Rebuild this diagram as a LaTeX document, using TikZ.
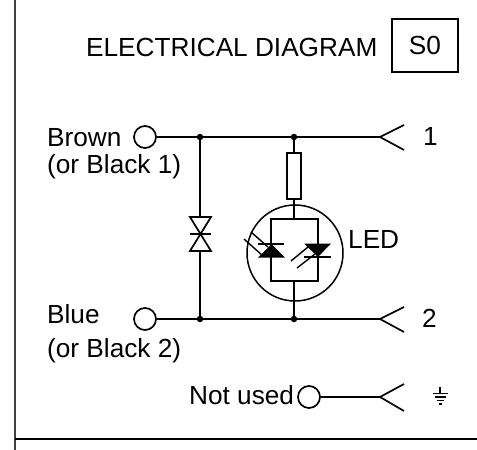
\documentclass[tikz,border=0pt]{standalone}
\usepackage{fontspec}
\setmainfont{Liberation Sans}
\usepackage{tikz}
\tikzstyle{Label}=[anchor=base west, inner sep=0pt, text=black, font=\fontsize{26.2}{30}\selectfont]
\tikzstyle{Pad}=[minimum size=22pt, inner sep=0pt, fill=white, line width=1.7pt, draw=black, shape=circle]
\tikzstyle{Joint}=[minimum size=6.5pt, inner sep=0pt, fill=black, shape=circle]
\tikzstyle{Frame}=[draw=black, line width=1.7pt, inner sep=0pt, shape=rectangle]
\tikzstyle{wire}=[line width=1.7pt, draw=black, line join=miter]
\tikzstyle{thin wire}=[line width=1.4pt, draw=black]
\pgfdeclarelayer{nodelayer}
\pgfdeclarelayer{edgelayer}
\pgfsetlayers{main, nodelayer, edgelayer}
\begin{document}
\begin{tikzpicture}[x=1pt, y=-1pt]
	\useasboundingbox (0, 0) rectangle (477, 450);
	\begin{pgfonlayer}{nodelayer}
		% texts
		\node [style=Label] (title) at (86, 56) {ELECTRICAL DIAGRAM};
		\node [style=Frame, minimum width=66pt, minimum height=53pt, font=\fontsize{26.2}{30}\selectfont] (code) at (425, 45.5) {S0\hspace{4pt}};
		\node [style=Label] (brown) at (47, 146) {Brown};
		\node [style=Label] (blackone) at (47, 173) {(or Black 1)};
		\node [style=Label] (blue) at (47, 323) {Blue};
		\node [style=Label] (blacktwo) at (47, 357) {(or Black 2)};
		\node [style=Label] (notused) at (189, 404) {Not used};
		\node [style=Label] (led label) at (348, 248) {LED};
		\node [style=Label] (pin one) at (423, 145) {1};
		\node [style=Label] (pin two) at (422, 327) {2};

		\node [style=Pad] (brown pad) at (145, 137) {};
		\node [style=Pad] (blue pad) at (145, 319) {};
		\node [style=Pad] (free pad) at (309, 397) {};
		\node [style=Joint] (top left) at (200, 137) {};
		\node [style=Joint] (top right) at (294, 137) {};
		\node [style=Joint] (bottom left) at (200, 319) {};
		\node [style=Joint] (bottom right) at (294, 319) {};

		\node [style=Frame, minimum width=14pt, minimum height=46pt] (resistor) at (294, 176) {};
		\node [draw=black, line width=1.5pt, shape=circle, minimum size=96pt, inner sep=0pt] (led) at (295, 253) {};
		\node [style=Frame, minimum width=47pt, minimum height=62pt] (led box) at (294.5, 250) {};

		\coordinate (fork one) at (380, 137);
		\coordinate (fork two) at (380, 319);
		\coordinate (fork free) at (380, 397);
		\coordinate (diode top) at (200, 217);
		\coordinate (diode bottom) at (200, 251);
	\end{pgfonlayer}
	\begin{pgfonlayer}{edgelayer}
		% frame of the sheet
		\draw [line width=2pt, draw=black!75] (15, 0) to (15, 450);
		\draw [line width=2pt, draw=black] (15, 439) to (477, 439);

		\draw [style=wire] (brown pad) to (top left);
		\draw [style=wire] (top left) to (top right);
		\draw [style=wire] (top right) to (fork one);
		\draw [style=wire] (blue pad) to (bottom left);
		\draw [style=wire] (bottom left) to (bottom right);
		\draw [style=wire] (bottom right) to (fork two);
		\draw [style=wire] (free pad) to (fork free);
		\draw [style=wire] (404, 125) to (fork one) to (404, 150);
		\draw [style=wire] (404, 307) to (fork two) to (404, 332);
		\draw [style=wire] (404, 384) to (fork free) to (404, 411);

		% bidirectional diode
		\draw [style=wire] (top left) to (diode top);
		\draw [style=wire] (bottom left) to (diode bottom);
		\draw [style=wire] (diode top) -- (190, 217) -- (211, 251) -- (190, 251) -- (211, 217) -- cycle;
		\draw [style=wire] (190, 234) to (211, 234);

		\draw [style=wire] (top right) to (resistor);
		\draw [style=wire] (resistor) to (led box.north -| resistor);
		\draw [style=wire] (led box.south -| bottom right) to (bottom right);

		% the two LEDs
		\fill (271.5, 244) -- (258, 257.5) -- (285, 257.5) -- cycle;
		\draw [style=wire] (258, 244) to (284, 244);
		\fill (318, 257) -- (304, 243.5) -- (331, 243.5) -- cycle;
		\draw [style=wire] (304, 257) to (331, 257);
		\draw [style=thin wire] (244, 239) to (263, 256);
		\draw [style=thin wire] (251, 232) to (268, 247);
		\draw [style=thin wire] (291, 261) to (308, 247);
		\draw [style=thin wire] (297, 268) to (315, 254);

		% earth
		\draw [style=thin wire] (440, 387) to (440, 393);
		\draw [style=thin wire] (432.5, 393.5) to (447.5, 393.5);
		\draw [style=thin wire] (434.5, 397) to (445.5, 397);
		\draw [style=thin wire] (436.5, 400.5) to (443.5, 400.5);
		\draw [style=thin wire] (438.5, 404) to (441.5, 404);
	\end{pgfonlayer}
\end{tikzpicture}
\end{document}
